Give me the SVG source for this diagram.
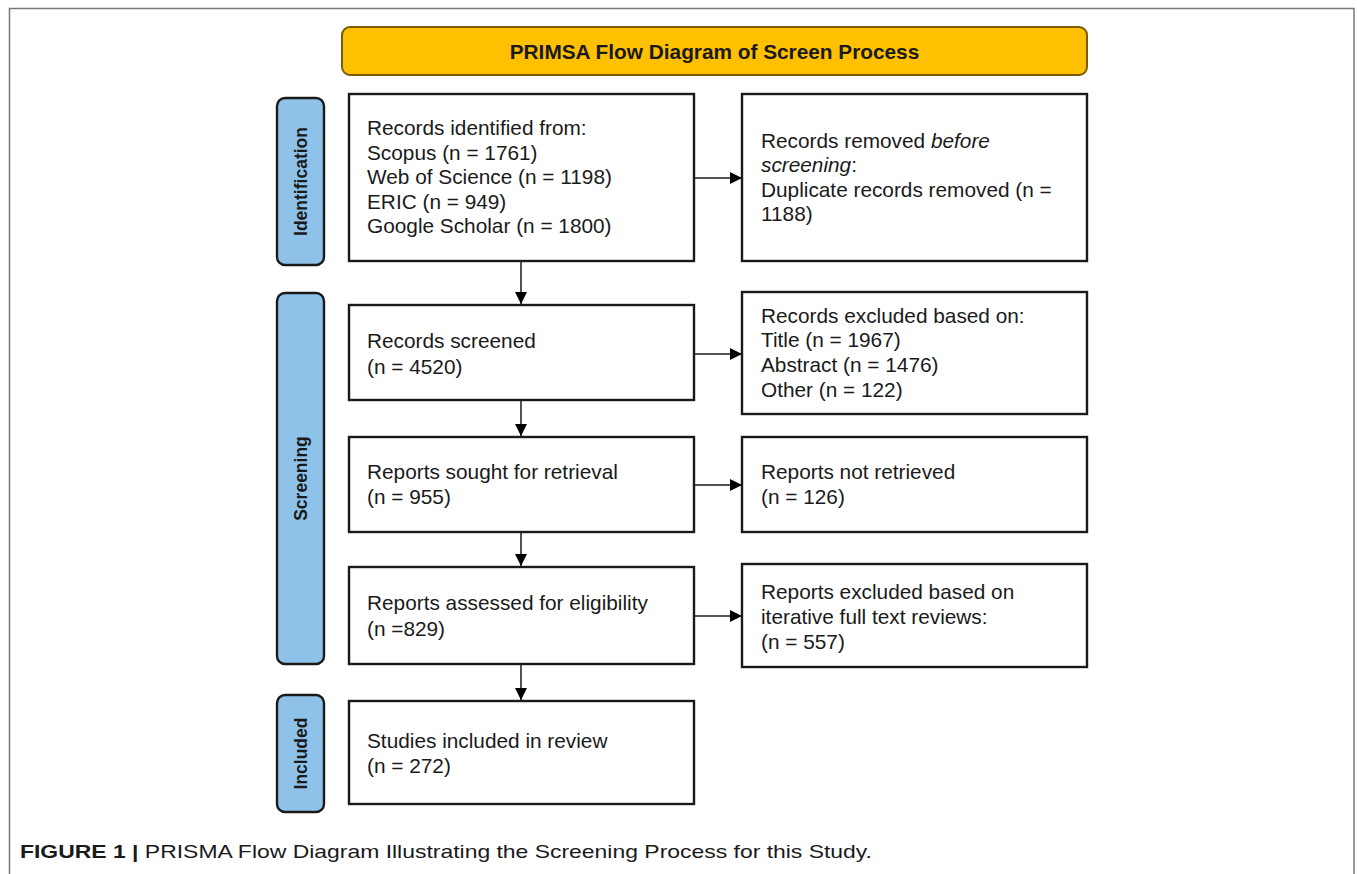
<svg xmlns="http://www.w3.org/2000/svg" width="1357" height="874" viewBox="0 0 1357 874">
<defs>
<style>
.box{fill:#fff;stroke:#1a1a1a;stroke-width:2.4}
.side{fill:#8EC2E8;stroke:#1a1a1a;stroke-width:2.4}
.t{font-family:"Liberation Sans",Arial,sans-serif;font-size:20.8px;fill:#1a1a1a}
.sl{font-family:"Liberation Sans",Arial,sans-serif;font-size:17.5px;font-weight:bold;fill:#1a1a1a;text-anchor:middle}
.c{stroke:#1a1a1a;stroke-width:1.5;fill:none;marker-end:url(#ah)}
</style>
<marker id="ah" viewBox="0 0 12 12" refX="12" refY="6" markerWidth="12" markerHeight="12" markerUnits="userSpaceOnUse" orient="auto">
<path d="M0,0 L12,6 L0,12 z" fill="#000"/>
</marker>
</defs>
<rect width="1357" height="874" fill="#fff"/>
<path d="M9.5,874 V8.5 H1354 V874" fill="none" stroke="#777" stroke-width="1.5"/>

<g id="title">
<rect x="342" y="27" width="745" height="48" rx="8" fill="#FFC000" stroke="#7a5c00" stroke-width="2"/>
<text x="714.5" y="58.5" font-family="Liberation Sans,Arial,sans-serif" font-size="20.8" font-weight="bold" text-anchor="middle" fill="#1a1a1a">PRIMSA Flow Diagram of Screen Process</text>
</g>

<g id="side-identification">
<rect class="side" x="277" y="98" width="47" height="167" rx="8"/>
<text class="sl" transform="translate(306.5,181.5) rotate(-90)">Identification</text>
</g>
<g id="side-screening">
<rect class="side" x="277" y="293" width="47" height="371" rx="8"/>
<text class="sl" transform="translate(306.5,478.5) rotate(-90)">Screening</text>
</g>
<g id="side-included">
<rect class="side" x="277" y="695" width="47" height="117" rx="8"/>
<text class="sl" transform="translate(306.5,753.5) rotate(-90)">Included</text>
</g>

<g id="identified">
<rect class="box" x="349" y="94" width="345" height="167"/>
<text class="t" x="367" y="135">Records identified from:</text>
<text class="t" x="367" y="159.5">Scopus (n = 1761)</text>
<text class="t" x="367" y="184">Web of Science (n = 1198)</text>
<text class="t" x="367" y="208.5">ERIC (n = 949)</text>
<text class="t" x="367" y="233">Google Scholar (n = 1800)</text>
</g>
<g id="removed">
<rect class="box" x="742" y="94" width="345" height="167"/>
<text class="t" x="761" y="148">Records removed <tspan font-style="italic">before</tspan></text>
<text class="t" x="761" y="172"><tspan font-style="italic">screening</tspan>:</text>
<text class="t" x="761" y="197">Duplicate records removed (n =</text>
<text class="t" x="761" y="221">1188)</text>
</g>
<g id="screened">
<rect class="box" x="349" y="305" width="345" height="95"/>
<text class="t" x="367" y="348">Records screened</text>
<text class="t" x="367" y="374">(n = 4520)</text>
</g>
<g id="excluded">
<rect class="box" x="742" y="292" width="345" height="122"/>
<text class="t" x="761" y="323">Records excluded based on:</text>
<text class="t" x="761" y="347">Title (n = 1967)</text>
<text class="t" x="761" y="372">Abstract (n = 1476)</text>
<text class="t" x="761" y="397">Other (n = 122)</text>
</g>
<g id="sought">
<rect class="box" x="349" y="437" width="345" height="95"/>
<text class="t" x="367" y="479">Reports sought for retrieval</text>
<text class="t" x="367" y="504">(n = 955)</text>
</g>
<g id="notretrieved">
<rect class="box" x="742" y="437" width="345" height="95"/>
<text class="t" x="761" y="479">Reports not retrieved</text>
<text class="t" x="761" y="504">(n = 126)</text>
</g>
<g id="assessed">
<rect class="box" x="349" y="567" width="345" height="97"/>
<text class="t" x="367" y="610">Reports assessed for eligibility</text>
<text class="t" x="367" y="636">(n =829)</text>
</g>
<g id="fulltext">
<rect class="box" x="742" y="564" width="345" height="103"/>
<text class="t" x="761" y="599">Reports excluded based on</text>
<text class="t" x="761" y="624">iterative full text reviews:</text>
<text class="t" x="761" y="649">(n = 557)</text>
</g>
<g id="included">
<rect class="box" x="349" y="701" width="345" height="103"/>
<text class="t" x="367" y="748">Studies included in review</text>
<text class="t" x="367" y="773">(n = 272)</text>
</g>

<g id="connectors">
<path class="c" d="M694,178 H742"/>
<path class="c" d="M521,261 V304"/>
<path class="c" d="M694,354 H742"/>
<path class="c" d="M521,400 V436"/>
<path class="c" d="M694,485 H742"/>
<path class="c" d="M521,532 V566"/>
<path class="c" d="M694,616 H742"/>
<path class="c" d="M521,664 V700"/>
</g>

<g id="caption">
<text x="20" y="858" font-family="Liberation Sans,Arial,sans-serif" font-size="19" fill="#1a1a1a" textLength="852" lengthAdjust="spacingAndGlyphs"><tspan font-weight="bold">FIGURE 1 | </tspan>PRISMA Flow Diagram Illustrating the Screening Process for this Study.</text>
</g>
</svg>
